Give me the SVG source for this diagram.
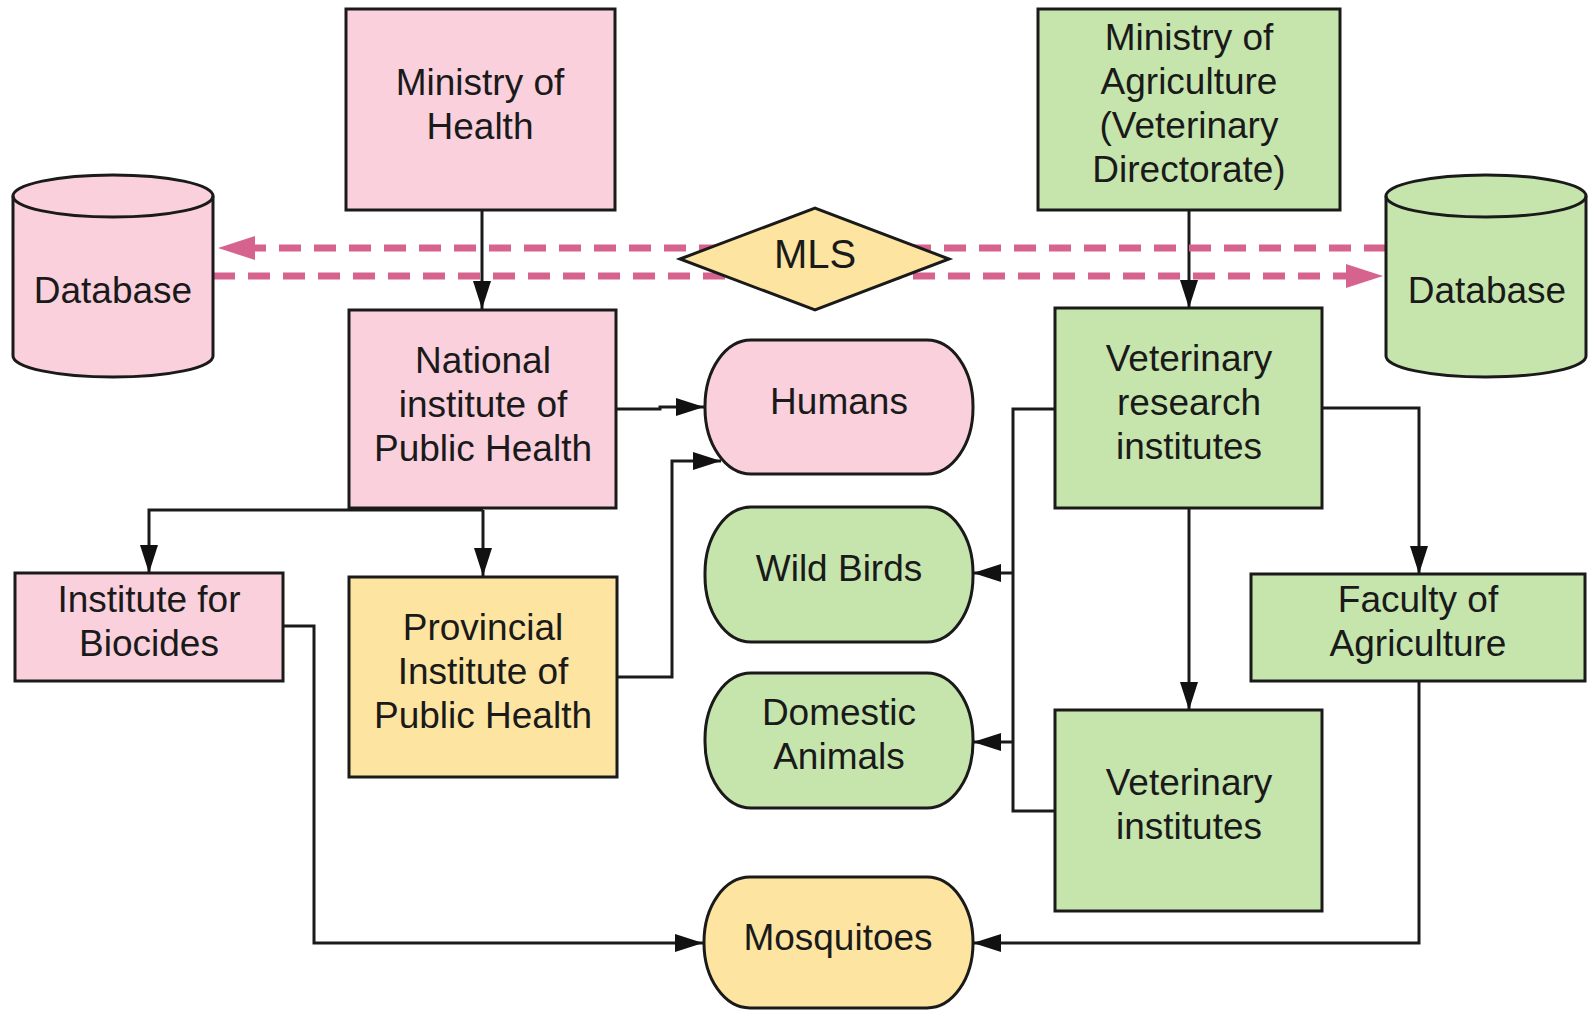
<svg xmlns="http://www.w3.org/2000/svg" width="1589" height="1010" viewBox="0 0 1589 1010">
<style>
.n{stroke:#1a1a1a;stroke-width:3}
.pk{fill:#f9d0dc}
.gr{fill:#c6e5ad}
.yl{fill:#fde5a1}
.t{font-family:"Liberation Sans",Arial,Helvetica,sans-serif;font-size:37px;fill:#1a1a1a;text-anchor:middle}
.c{fill:none;stroke:#1a1a1a;stroke-width:3}
.d{fill:none;stroke:#d6638e;stroke-width:7;stroke-dasharray:22 13}
</style>
<defs>
<marker id="ah" markerUnits="userSpaceOnUse" markerWidth="28" markerHeight="18" refX="28" refY="9" orient="auto">
<path d="M0,0 L28,9 L0,18 Z" fill="#111"/>
</marker>
<marker id="ph" markerUnits="userSpaceOnUse" markerWidth="37" markerHeight="24" refX="37" refY="12" orient="auto">
<path d="M0,0 L37,12 L0,24 Z" fill="#d6638e"/>
</marker>
</defs>
<rect width="1589" height="1010" fill="#fff"/>
<g id="connectors">
<path class="c" d="M482,210 V309" marker-end="url(#ah)"/>
<path class="c" d="M1189,210 V308" marker-end="url(#ah)"/>
<path class="c" d="M616,409 H660 V407 H704" marker-end="url(#ah)"/>
<path class="c" d="M617,677 H672 V461 H721" marker-end="url(#ah)"/>
<path class="c" d="M483,510 H149 V573" marker-end="url(#ah)"/>
<path class="c" d="M483,510 V576" marker-end="url(#ah)"/>
<path class="c" d="M283,626 H314 V943 H703" marker-end="url(#ah)"/>
<path class="c" d="M1055,409 H1013 V811 H1055"/>
<path class="c" d="M1013,573 H973" marker-end="url(#ah)"/>
<path class="c" d="M1013,742 H973" marker-end="url(#ah)"/>
<path class="c" d="M1322,408 H1419 V574" marker-end="url(#ah)"/>
<path class="c" d="M1189,508 V710" marker-end="url(#ah)"/>
<path class="c" d="M1419,681 V943 H973" marker-end="url(#ah)"/>
<path class="d" d="M1386,248 H250"/>
<path d="M255,236 L218,248 L255,260 Z" fill="#d6638e"/>
<path class="d" d="M213,276 H1350"/>
<path d="M1346,264 L1383,276 L1346,288 Z" fill="#d6638e"/>
</g>
<g id="moh"><rect class="n pk" x="346" y="9" width="269" height="201"/><text class="t" x="480" y="95">Ministry of</text><text class="t" x="480" y="139">Health</text></g>
<g id="moa"><rect class="n gr" x="1038" y="9" width="302" height="201"/><text class="t" x="1189" y="50">Ministry of</text><text class="t" x="1189" y="94">Agriculture</text><text class="t" x="1189" y="138">(Veterinary</text><text class="t" x="1189" y="182">Directorate)</text></g>
<g id="db-left"><path class="n pk" d="M13,196 A100,21 0 0 1 213,196 V356 A100,21 0 0 1 13,356 Z"/><path class="c" d="M13,196 A100,21 0 0 0 213,196"/><text class="t" x="113" y="303">Database</text></g>
<g id="db-right"><path class="n gr" d="M1386,196 A100,21 0 0 1 1586,196 V356 A100,21 0 0 1 1386,356 Z"/><path class="c" d="M1386,196 A100,21 0 0 0 1586,196"/><text class="t" x="1487" y="303">Database</text></g>
<g id="mls"><path class="n yl" d="M680,259 L815,208 L949,259 L815,310 Z"/><text class="t" x="815" y="268" style="font-size:40px">MLS</text></g>
<g id="niph"><rect class="n pk" x="349" y="310" width="267" height="198"/><text class="t" x="483" y="373">National</text><text class="t" x="483" y="417">institute of</text><text class="t" x="483" y="461">Public Health</text></g>
<g id="vri"><rect class="n gr" x="1055" y="308" width="267" height="200"/><text class="t" x="1189" y="371">Veterinary</text><text class="t" x="1189" y="415">research</text><text class="t" x="1189" y="459">institutes</text></g>
<g id="humans"><rect class="n pk" x="705" y="340" width="268" height="134" rx="46" ry="66"/><text class="t" x="839" y="414">Humans</text></g>
<g id="wild-birds"><rect class="n gr" x="705" y="507" width="268" height="135" rx="46" ry="66"/><text class="t" x="839" y="581">Wild Birds</text></g>
<g id="domestic"><rect class="n gr" x="705" y="673" width="268" height="135" rx="46" ry="66"/><text class="t" x="839" y="725">Domestic</text><text class="t" x="839" y="769">Animals</text></g>
<g id="mosquitoes"><rect class="n yl" x="704" y="877" width="269" height="131" rx="46" ry="65"/><text class="t" x="838" y="950">Mosquitoes</text></g>
<g id="biocides"><rect class="n pk" x="15" y="573" width="268" height="108"/><text class="t" x="149" y="612">Institute for</text><text class="t" x="149" y="656">Biocides</text></g>
<g id="piph"><rect class="n yl" x="349" y="577" width="268" height="200"/><text class="t" x="483" y="640">Provincial</text><text class="t" x="483" y="684">Institute of</text><text class="t" x="483" y="728">Public Health</text></g>
<g id="faculty"><rect class="n gr" x="1251" y="574" width="334" height="107"/><text class="t" x="1418" y="612">Faculty of</text><text class="t" x="1418" y="656">Agriculture</text></g>
<g id="vi"><rect class="n gr" x="1055" y="710" width="267" height="201"/><text class="t" x="1189" y="795">Veterinary</text><text class="t" x="1189" y="839">institutes</text></g>
</svg>
